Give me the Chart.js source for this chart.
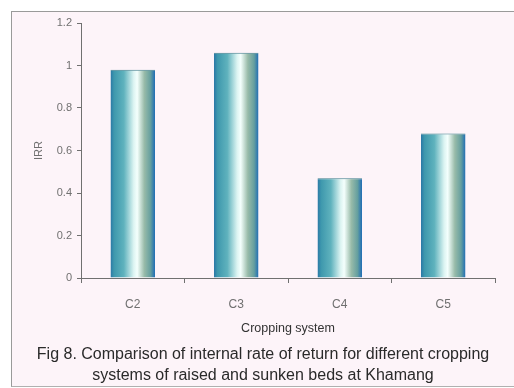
<!DOCTYPE html>
<html>
<head>
<meta charset="utf-8">
<script src="https://cdn.jsdelivr.net/npm/chart.js@4.4.1/dist/chart.umd.min.js"></script>
<style>
  html, body { margin: 0; padding: 0; background: #ffffff; }
  #wrap { position: relative; width: 514px; height: 388px; overflow: hidden; }
  #frame {
    position: absolute; left: 11px; top: 11px; width: 503px; height: 374px;
    background: #fdf4f9;
    border-left: 1px solid #9a9a9a; border-top: 1px solid #9a9a9a; border-bottom: 1px solid #b0b0b0;
  }
  #c { position: absolute; left: 0; top: 0; }
</style>
</head>
<body>
<div id="wrap">
  <div id="frame"></div>
  <canvas id="c" width="514" height="388"></canvas>
</div>
<script>
// Cropping systems and their internal rate of return
const categories = ['C2', 'C3', 'C4', 'C5'];
const irrValues = [0.98, 1.06, 0.47, 0.68];
const yTicks = [0, 0.2, 0.4, 0.6, 0.8, 1, 1.2];
const captionLines = [
  'Fig 8. Comparison of internal rate of return for different cropping',
  'systems of raised and sunken beds at Khamang'
];

const FONT = 'Liberation Sans, Arial, sans-serif';
const CAT_PCT = 0.86, BAR_PCT = 0.5;

// Horizontal "cylinder" shading for each bar, built from the bar's own pixel span
function barGradient(ctx) {
  const chart = ctx.chart;
  const xs = chart.scales.x;
  if (!xs || !chart.chartArea) return '#5fb3c0';
  const center = xs.getPixelForValue(ctx.dataIndex);
  const w = (xs.width / categories.length) * CAT_PCT * BAR_PCT;
  const g = chart.ctx.createLinearGradient(center - w / 2, 0, center + w / 2, 0);
  g.addColorStop(0.00, '#2a77a6');
  g.addColorStop(0.08, '#3e98ad');
  g.addColorStop(0.30, '#5fb2bd');
  g.addColorStop(0.52, '#dcf4f2');
  g.addColorStop(0.60, '#f4fffd');
  g.addColorStop(0.76, '#98bba9');
  g.addColorStop(0.90, '#659f9f');
  g.addColorStop(1.00, '#1f6db5');
  return g;
}

// Figure caption under the plot, centred on the framed panel
const captionPlugin = {
  id: 'caption',
  afterDraw(chart) {
    const c = chart.ctx;
    c.save();
    c.fillStyle = '#2a2a2a';
    c.font = '16px ' + FONT;
    c.textAlign = 'center';
    c.textBaseline = 'middle';
    captionLines.forEach((line, i) => c.fillText(line, 263, 355 + i * 21));
    c.restore();
  }
};

new Chart(document.getElementById('c'), {
  type: 'bar',
  data: {
    labels: categories,
    datasets: [{
      data: irrValues,
      backgroundColor: barGradient,
      borderColor: '#3f7f8c',
      borderWidth: { top: 1, left: 0, right: 0, bottom: 0 },
      borderSkipped: 'bottom',
      categoryPercentage: CAT_PCT,
      barPercentage: BAR_PCT
    }]
  },
  plugins: [captionPlugin],
  options: {
    responsive: false,
    animation: false,
    layout: { padding: { top: 23, right: 19, bottom: 52, left: 0 } },
    plugins: {
      legend: { display: false },
      tooltip: { enabled: false },
      title: { display: false }
    },
    scales: {
      x: {
        afterFit: s => { s.height = 58; },
        border: { display: true, color: '#707070', width: 1 },
        grid: { display: true, drawOnChartArea: false, tickLength: 5, color: '#707070', offset: true },
        ticks: { color: '#707070', padding: 14, font: { family: FONT, size: 12 } },
        title: {
          display: true, text: 'Cropping system', color: '#333333',
          font: { family: FONT, size: 12.5 },
          padding: { top: 4, bottom: 0 }
        }
      },
      y: {
        min: 0, max: 1.2,
        afterFit: s => { s.width = 81; },
        afterBuildTicks: s => { s.ticks = yTicks.map(v => ({ value: v })); },
        border: { display: true, color: '#707070', width: 1 },
        grid: { display: true, drawOnChartArea: false, tickLength: 4, color: '#707070' },
        ticks: {
          color: '#707070', padding: 5,
          font: { family: FONT, size: 11 },
          callback: v => String(v)
        },
        title: {
          display: true, text: 'IRR', color: '#707070',
          font: { family: FONT, size: 11 },
          padding: { top: 32, bottom: 0 }
        }
      }
    }
  }
});
</script>
</body>
</html>
